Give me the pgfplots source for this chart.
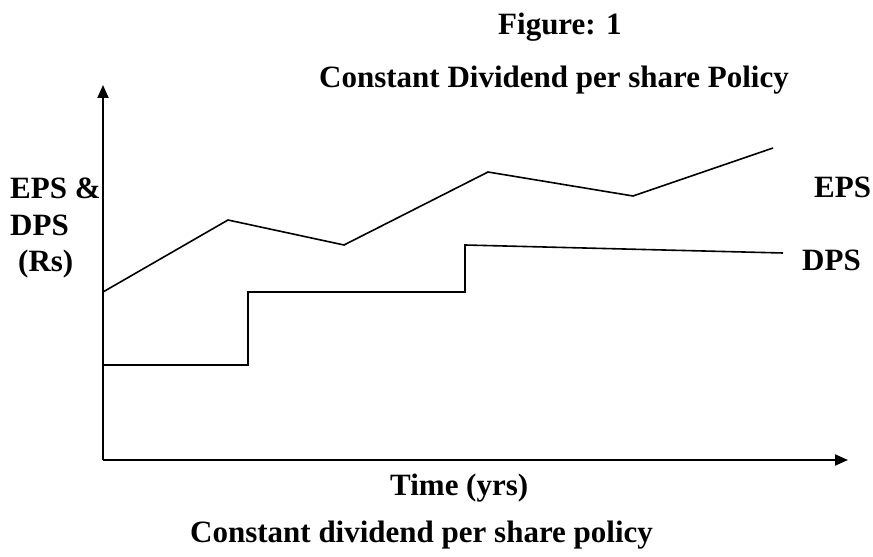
\documentclass[border=0pt]{standalone}
\usepackage{fontspec}
\setmainfont{Liberation Serif}
\usepackage{pgfplots}
\pgfplotsset{compat=1.18}
\usetikzlibrary{arrows.meta}
\tikzset{lbl/.style={font=\fontsize{31}{36}\selectfont\bfseries, inner sep=0pt, anchor=base west}}
\begin{document}
\begin{tikzpicture}
\begin{axis}[
  scale only axis, width=745pt, height=375pt,
  xmin=103, xmax=848, ymin=97, ymax=472,
  axis lines=left,
  axis line style={line width=2pt, -{Triangle[length=13pt,width=11pt]}},
  xtick=\empty, ytick=\empty,
  clip=false,
]
\path (axis cs:0,0) rectangle (axis cs:873,557);
% EPS
\addplot[black, line width=1.6pt] coordinates {(103,265) (228,337) (344,312) (488,385) (633,361) (773,409)};
% DPS
\addplot[black, line width=1.6pt] coordinates {(103,192) (248,192) (248,265) (465,265) (465,312) (783,304)};
\node[lbl] at (axis cs:498,522) {Figure: 1};
\node[lbl] at (axis cs:319,469) {Constant Dividend per share Policy};
\node[lbl] at (axis cs:10,358) {EPS \&};
\node[lbl] at (axis cs:10,321) {DPS};
\node[lbl] at (axis cs:18,285) {(Rs)};
\node[lbl] at (axis cs:814,359) {EPS};
\node[lbl] at (axis cs:802,286) {DPS};
\node[lbl] at (axis cs:390,62) {Time (yrs)};
\node[lbl] at (axis cs:190,15) {Constant dividend per share policy};
\end{axis}
\end{tikzpicture}
\end{document}
